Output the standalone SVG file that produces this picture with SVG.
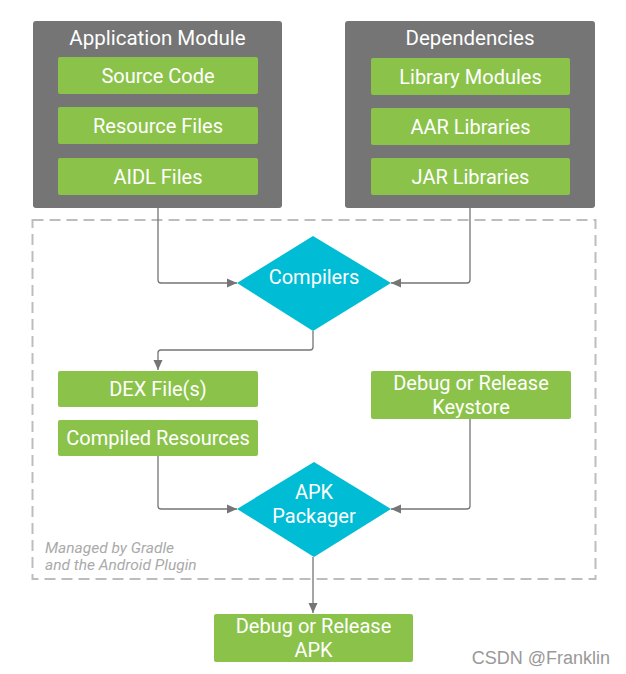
<svg xmlns="http://www.w3.org/2000/svg" width="626" height="674" viewBox="0 0 626 674">
<style>
.mod{fill:#757575}
.g{fill:#8bc34a}
.d{fill:#00bcd4}
.t{font-family:Roboto,"Liberation Sans",sans-serif;font-size:20px;fill:#ffffff;text-anchor:middle}
.tt{font-family:Roboto,"Liberation Sans",sans-serif;font-size:20.5px;fill:#ffffff;text-anchor:middle}
.c{fill:none;stroke:#757575;stroke-width:1.3}
.note{font-family:Roboto,"Liberation Sans",sans-serif;font-size:15.5px;fill:#aaaaaa;font-style:italic}
</style>
<defs>
<marker id="ah" viewBox="0 0 10 10" refX="10" refY="5" markerWidth="10" markerHeight="10" markerUnits="userSpaceOnUse" orient="auto">
<path d="M0,0.5 L10,5 L0,9.5 z" fill="#757575"/>
</marker>
</defs>
<rect width="626" height="674" fill="#ffffff"/>
<g id="managed">
<rect x="32.5" y="220" width="563" height="359" fill="none" stroke="#bdbdbd" stroke-width="2" stroke-dasharray="11 6"/>
<text class="note" x="45" y="553">Managed by Gradle</text>
<text class="note" x="45" y="570">and the Android Plugin</text>
</g>
<g id="connectors">
<path class="c" d="M158,208 V280 Q158,283 161,283 H237" marker-end="url(#ah)"/>
<path class="c" d="M470,208 V280 Q470,283 467,283 H391" marker-end="url(#ah)"/>
<path class="c" d="M313,331 V347 Q313,350 310,350 H161 Q158,350 158,353 V370" marker-end="url(#ah)"/>
<path class="c" d="M158,456 V506 Q158,509 161,509 H237" marker-end="url(#ah)"/>
<path class="c" d="M470,419 V506 Q470,509 467,509 H391" marker-end="url(#ah)"/>
<path class="c" d="M313,557 V613" marker-end="url(#ah)"/>
</g>
<g id="app-module">
<rect class="mod" x="33" y="21" width="249" height="187" rx="3"/>
<text class="tt" x="157.5" y="44.5">Application Module</text>
</g>
<g id="source-code"><rect class="g" x="58" y="57" width="200" height="37" rx="2"/><text class="t" x="158" y="83">Source Code</text></g>
<g id="resource-files"><rect class="g" x="58" y="107" width="200" height="37" rx="2"/><text class="t" x="158" y="133">Resource Files</text></g>
<g id="aidl-files"><rect class="g" x="58" y="158" width="200" height="37" rx="2"/><text class="t" x="158" y="184">AIDL Files</text></g>
<g id="dependencies">
<rect class="mod" x="345" y="21" width="250" height="187" rx="3"/>
<text class="tt" x="470" y="44.5">Dependencies</text>
</g>
<g id="library-modules"><rect class="g" x="371" y="58" width="199" height="37" rx="2"/><text class="t" x="470.5" y="83.5">Library Modules</text></g>
<g id="aar-libraries"><rect class="g" x="371" y="108" width="199" height="37" rx="2"/><text class="t" x="470.5" y="133.5">AAR Libraries</text></g>
<g id="jar-libraries"><rect class="g" x="371" y="158" width="199" height="37" rx="2"/><text class="t" x="470.5" y="183.5">JAR Libraries</text></g>
<g id="compilers">
<polygon class="d" points="313,236 391,283 313,331 237,283"/>
<text class="t" x="314" y="284">Compilers</text>
</g>
<g id="dex-files"><rect class="g" x="58" y="371" width="200" height="36" rx="2"/><text class="t" x="158" y="396">DEX File(s)</text></g>
<g id="compiled-resources"><rect class="g" x="58" y="420" width="200" height="36" rx="2"/><text class="t" x="158" y="445">Compiled Resources</text></g>
<g id="keystore"><rect class="g" x="371" y="371" width="200" height="48" rx="2"/><text class="t" x="471" y="390">Debug or Release</text><text class="t" x="471" y="414">Keystore</text></g>
<g id="apk-packager">
<polygon class="d" points="314,462 391,509 314,557 237,509"/>
<text class="t" x="314" y="499">APK</text>
<text class="t" x="314" y="523">Packager</text>
</g>
<g id="output-apk"><rect class="g" x="214" y="614" width="199" height="48" rx="2"/><text class="t" x="313.5" y="633">Debug or Release</text><text class="t" x="313.5" y="657">APK</text></g>
<text x="610" y="664" font-family="'Liberation Sans',Arial,sans-serif" font-size="18" fill="#999999" text-anchor="end">CSDN @Franklin</text>
</svg>
